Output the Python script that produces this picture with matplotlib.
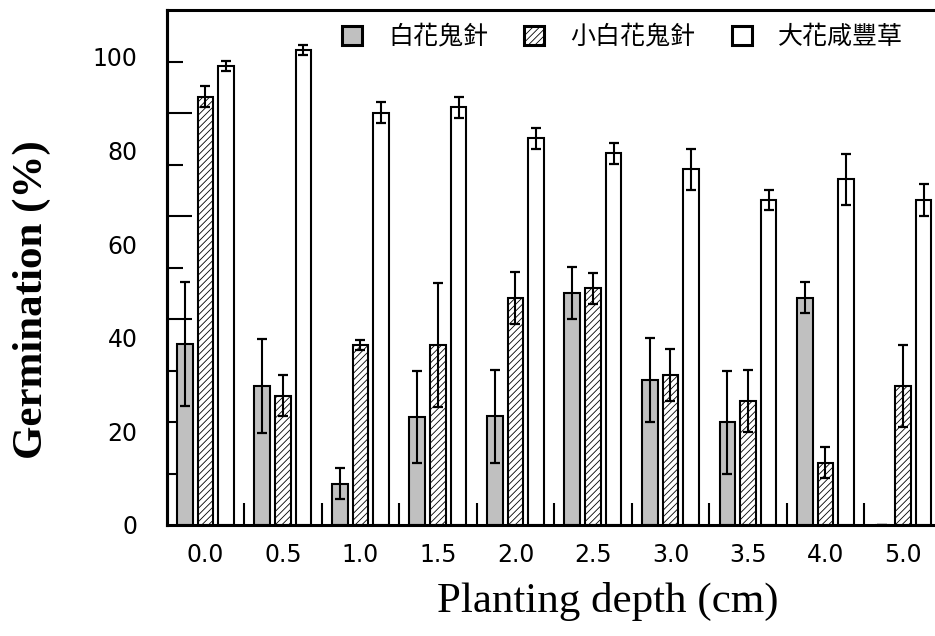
import matplotlib
matplotlib.use('Agg')
import matplotlib.pyplot as plt
import numpy as np

# ---- data ----
depths = ['0.0', '0.5', '1.0', '1.5', '2.0', '2.5', '3.0', '3.5', '4.0', '5.0']
series_names = ['白花鬼針', '小白花鬼針', '大花咸豐草']
bp_mean = [38.6, 29.7, 8.8, 23.1, 23.2, 49.5, 31.0, 22.0, 48.5, 0.0]
bp_err = [13.2, 10.0, 3.3, 9.9, 9.9, 5.6, 8.9, 11.0, 3.3, 0.0]
bpm_mean = [91.5, 27.6, 38.5, 38.5, 48.5, 50.6, 32.0, 26.5, 13.3, 29.7]
bpm_err = [2.2, 4.4, 1.1, 13.2, 5.5, 3.3, 5.6, 6.6, 3.3, 8.8]
ba_mean = [98.1, 101.4, 88.1, 89.2, 82.6, 79.4, 76.0, 69.4, 73.8, 69.4]
ba_err = [1.1, 1.1, 2.2, 2.2, 2.2, 2.2, 4.4, 2.2, 5.5, 3.4]
ytick_labels = [0, 20, 40, 60, 80, 100]
ymark_short = [11, 33, 55, 77, 99]
ymark_long = [22, 44, 66, 88]

plt.rcParams['font.family'] = ['DejaVu Sans']
plt.rcParams['hatch.linewidth'] = 0.6

W, H = 935, 636
fig = plt.figure(figsize=(W / 100, H / 100), dpi=100)
ax = fig.add_axes([166.7 / W, 111 / H, (W - 166.7) / W, 515 / H])

x = np.arange(len(depths))
bw = 0.205
off = 0.265
means = [bp_mean, bpm_mean, ba_mean]
errs = [bp_err, bpm_err, ba_err]
faces = ['#c0c0c0', 'white', 'white']
hatches = [None, '/////', None]
for k in range(3):
    xs = x + (k - 1) * off
    ax.bar(xs, means[k], width=bw, color=faces[k], edgecolor='black',
           linewidth=1.5, hatch=hatches[k], label=series_names[k], zorder=2)
    ax.errorbar(xs, means[k], yerr=errs[k], fmt='none', ecolor='black',
                elinewidth=1.5, capsize=3.6, capthick=1.6, zorder=3)

ax.set_xlim(-0.5, (W - 205.5) / 77.5)
ax.set_ylim(0, 110)

# x ticks: labels at group centers, marks between groups
ax.set_xticks(x)
ax.set_xticklabels(depths)
ax.set_xticks(x[:-1] + 0.5, minor=True)
ax.tick_params(axis='x', which='major', length=0, pad=13, labelsize=17)
ax.tick_params(axis='x', which='minor', direction='in', length=15.8, width=1.5)

# y ticks
ax.set_yticks(ytick_labels)
ax.set_yticks(ymark_short, minor=True)
ax.tick_params(axis='y', which='major', length=0, pad=21, labelsize=17)
ax.tick_params(axis='y', which='minor', direction='in', length=11.5, width=1.5)
sec = ax.secondary_yaxis('left')
sec.set_yticks(ymark_long)
sec.tick_params(axis='y', direction='in', length=18, width=1.5, labelleft=False)
sec.spines['left'].set_linewidth(2.2)

for s in ['left', 'bottom', 'top']:
    ax.spines[s].set_linewidth(2.2)
ax.spines['right'].set_visible(False)

ax.set_xlabel('Planting depth (cm)', family='Liberation Serif', fontsize=31)
ax.xaxis.set_label_coords(0.574, -0.111)
ax.set_ylabel('Germination (%)', family='Liberation Serif', fontsize=31,
              fontweight='bold')
ax.yaxis.set_label_coords(-0.1506, 0.437)

leg = ax.legend(loc='center left', bbox_to_anchor=(0.228, 0.948), ncol=3,
                frameon=False, borderpad=0, borderaxespad=0,
                handlelength=0.8, handleheight=0.8, handletextpad=1.05,
                columnspacing=1.45,
                prop={'family': ['Noto Sans CJK TC', 'DejaVu Sans'],
                      'size': 18, 'weight': 'medium'})
for h in leg.legend_handles:
    h.set_linewidth(2.2)

fig.savefig('out.png', dpi=100)
